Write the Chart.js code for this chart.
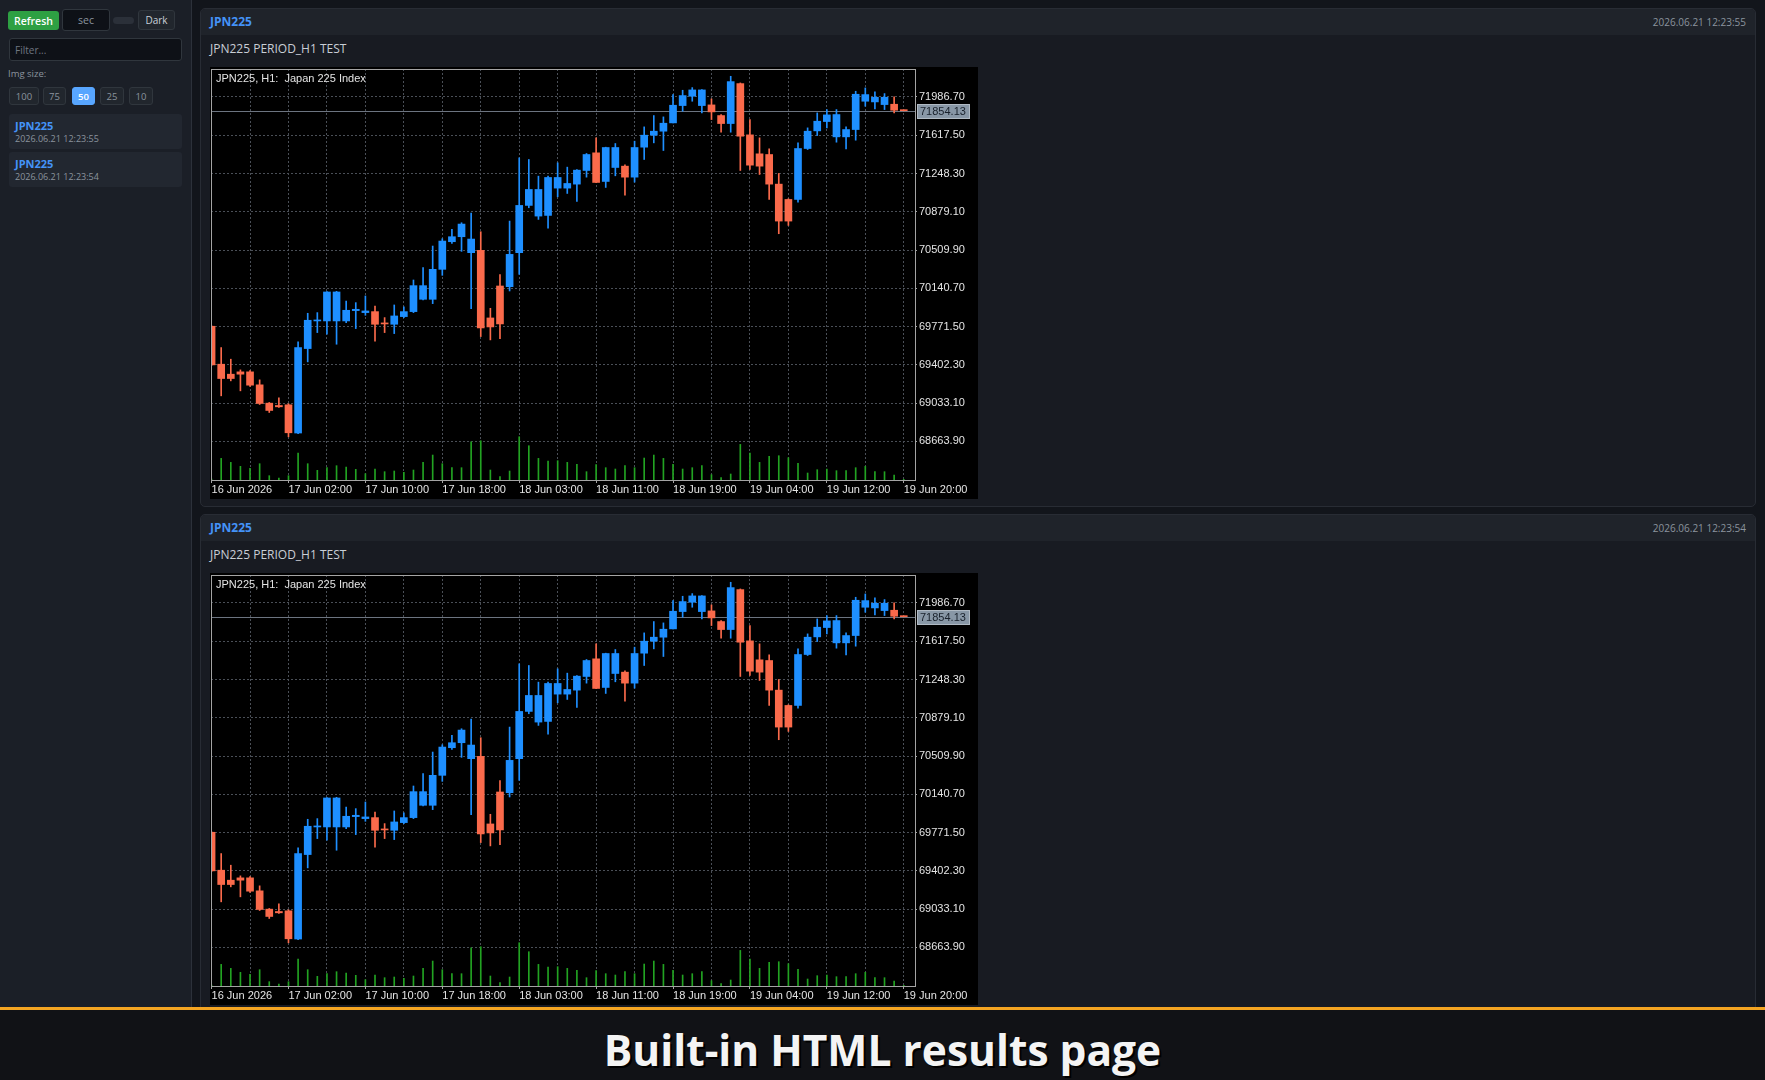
<!DOCTYPE html>
<html>
<head>
<meta charset="utf-8">
<script src="https://cdn.jsdelivr.net/npm/chart.js@4.4.1/dist/chart.umd.min.js"></script>
<style>
html, body { margin: 0; padding: 0; width: 1765px; height: 1080px; overflow: hidden; background: #12151b; font-family: "Open Sans", "Noto Sans", sans-serif; }
#side { position: absolute; left: 0; top: 0; width: 191px; height: 1080px; background: #1b1f27; border-right: 1px solid #2c313a; }
.ctl { position: absolute; box-sizing: border-box; border-radius: 3px; display: flex; align-items: center; justify-content: center; font-size: 10px; }
#refresh { left: 8px; top: 11px; width: 51px; height: 19px; background: #2ea043; color: #fff; font-weight: 600; font-size: 10.5px; }
#sec { left: 62px; top: 9px; width: 48px; height: 22px; background: #0e1117; border: 1px solid #30363d; color: #8b949e; font-size: 10.5px; }
#toggle { left: 113px; top: 17px; width: 21px; height: 7px; background: #2b3039; border-radius: 4px; }
#dark { left: 138px; top: 10px; width: 37px; height: 20px; background: #21262d; border: 1px solid #30363d; color: #c9d1d9; }
#filter { left: 9px; top: 38px; width: 173px; height: 23px; background: #0e1117; border: 1px solid #30363d; color: #6e7681; justify-content: flex-start; padding-left: 5px; }
#imglbl { position: absolute; left: 8px; top: 67px; font-size: 9.5px; color: #8b949e; }
.sz { top: 87px; height: 18px; background: #21262d; border: 1px solid #30363d; color: #8b949e; font-size: 9.5px; }
.sz.on { background: #58a6ff; border-color: #58a6ff; color: #fff; font-weight: 600; }
.item { position: absolute; left: 9px; width: 173px; height: 35px; background: #222730; border-radius: 3px; }
.item .n { position: absolute; left: 6px; top: 4px; font-size: 11px; font-weight: 700; color: #4493f8; }
.item .d { position: absolute; left: 6px; top: 18px; font-size: 9px; color: #8b949e; }
.panel { position: absolute; left: 200px; width: 1556px; height: 499px; box-sizing: border-box; background: #181b22; border: 1px solid #282c34; border-radius: 5px; overflow: hidden; }
.panel .hd { position: absolute; left: 0; top: 0; right: 0; height: 26px; background: #1f232a; }
.panel .sym { position: absolute; left: 9px; top: 4px; font-size: 12px; font-weight: 700; color: #4493f8; }
.panel .dt { position: absolute; right: 9px; top: 6px; font-size: 10px; color: #8b949e; }
.panel .sub { position: absolute; left: 9px; top: 31px; font-size: 12px; color: #c9ced6; }
.panel canvas { position: absolute; left: 9px; top: 58px; background: #000; }
#banner { position: absolute; left: 0; top: 1007px; width: 1765px; height: 73px; box-sizing: border-box; background: #111216; border-top: 3px solid #f4a522; text-align: center; color: #f4f4f4; font-family: "Open Sans", sans-serif; font-weight: 700; font-size: 42.5px; line-height: 80px; text-shadow: 2px 2px 0 #000; z-index: 5; overflow: hidden; }
</style>
</head>
<body>
<div id="side">
  <div class="ctl" id="refresh">Refresh</div>
  <div class="ctl" id="sec">sec</div>
  <div class="ctl" id="toggle"></div>
  <div class="ctl" id="dark">Dark</div>
  <div class="ctl" id="filter">Filter...</div>
  <div id="imglbl">Img size:</div>
  <div class="ctl sz" style="left:9px;width:30px">100</div>
  <div class="ctl sz" style="left:43px;width:23px">75</div>
  <div class="ctl sz on" style="left:72px;width:23px">50</div>
  <div class="ctl sz" style="left:100px;width:24px">25</div>
  <div class="ctl sz" style="left:129px;width:24px">10</div>
  <div class="item" style="top:114px"><div class="n">JPN225</div><div class="d">2026.06.21 12:23:55</div></div>
  <div class="item" style="top:152px"><div class="n">JPN225</div><div class="d">2026.06.21 12:23:54</div></div>
</div>

<div class="panel" style="top:8px">
  <div class="hd"><div class="sym">JPN225</div><div class="dt">2026.06.21 12:23:55</div></div>
  <div class="sub">JPN225 PERIOD_H1 TEST</div>
  <canvas id="chart1" width="768" height="432"></canvas>
</div>
<div class="panel" style="top:514px">
  <div class="hd"><div class="sym">JPN225</div><div class="dt">2026.06.21 12:23:54</div></div>
  <div class="sub">JPN225 PERIOD_H1 TEST</div>
  <canvas id="chart2" width="768" height="432"></canvas>
</div>

<div id="banner">Built-in HTML results page</div>

<script>
// JPN225 H1 bars
var opens = [69774.8, 69408.8, 69312.5, 69335.0, 69335.0, 69209.8, 69033.2, 69010.7, 69017.1, 68745.0,
  69559.7, 69826.1, 69826.1, 69826.1, 69826.1, 69925.7, 69906.4, 69916.0, 69806.9, 69794.0,
  69867.9, 69916.0, 70034.8, 70034.8, 70323.8, 70590.2, 70638.4, 70484.3, 70506.8, 69855.0,
  70163.2, 70156.8, 70484.3, 70940.2, 70837.4, 70843.8, 71107.1, 71107.1, 71145.6, 71277.2,
  71447.4, 71171.3, 71306.1, 71319.0, 71213.0, 71502.0, 71617.6, 71656.1, 71736.3, 71903.3,
  71993.2, 71903.3, 71909.7, 71807.0, 71729.9, 72115.2, 71620.8, 71437.8, 71431.3, 71145.6,
  70997.9, 70997.9, 71489.1, 71659.3, 71749.2, 71601.5, 71601.5, 71672.1, 71945.0, 71938.6,
  71912.9, 71916.1, 71858.3];
var highs = [69780.0, 69569.3, 69457.0, 69354.2, 69347.8, 69257.9, 69039.6, 69084.5, 69026.8, 69623.9,
  69900.0, 69906.4, 70108.7, 70111.9, 70018.8, 70002.7, 70066.9, 69970.6, 69858.3, 69980.2,
  69961.0, 70221.0, 70339.8, 70548.5, 70619.1, 70709.0, 70773.2, 70866.3, 70686.5, 69948.1,
  70272.4, 70789.3, 71399.2, 71383.2, 71222.7, 71222.7, 71351.1, 71309.4, 71286.9, 71441.0,
  71591.9, 71502.0, 71537.3, 71331.8, 71559.8, 71697.8, 71807.0, 71794.1, 72009.2, 72051.0,
  72076.6, 72057.4, 71967.5, 71816.6, 72185.8, 72121.6, 71768.4, 71591.9, 71485.9, 71248.4,
  71004.4, 71543.7, 71688.2, 71832.6, 71864.8, 71864.8, 71697.8, 72041.3, 72073.4, 72034.9,
  72018.9, 71986.7, 71860.5];
var lows = [69398.0, 69103.8, 69248.3, 69152.0, 69193.7, 69020.3, 68943.3, 68991.4, 68708.9, 68740.0,
  69431.3, 69713.8, 69697.7, 69601.4, 69810.1, 69752.3, 69880.7, 69630.3, 69713.8, 69704.2,
  69858.3, 69906.4, 70028.4, 69993.1, 70266.0, 70574.2, 70497.1, 69944.9, 69675.3, 69643.2,
  69656.0, 70115.1, 70275.6, 70917.7, 70805.3, 70721.9, 71023.6, 71055.7, 70978.7, 71213.0,
  71158.5, 71113.5, 71225.9, 71039.7, 71164.9, 71383.2, 71543.7, 71469.9, 71736.3, 71848.7,
  71945.0, 71832.6, 71768.4, 71646.4, 71646.4, 71277.2, 71286.9, 71238.7, 70997.9, 70667.3,
  70747.5, 70972.3, 71479.5, 71614.3, 71688.2, 71550.1, 71485.9, 71569.4, 71896.9, 71871.2,
  71864.8, 71832.6, 71852.0];
var closes = [69402.4, 69270.7, 69270.7, 69312.5, 69206.5, 69030.0, 68962.6, 68997.9, 68747.5, 69569.3,
  69832.6, 69835.8, 70105.5, 70105.5, 69928.9, 69938.5, 69922.5, 69794.0, 69797.3, 69874.3,
  69916.0, 70166.5, 70166.5, 70323.8, 70596.6, 70638.4, 70760.4, 70615.9, 69758.7, 69768.4,
  69797.3, 70468.2, 70940.2, 71094.3, 71094.3, 71209.8, 71209.8, 71152.0, 71280.5, 71431.3,
  71161.7, 71498.8, 71498.8, 71213.0, 71498.8, 71617.6, 71656.1, 71733.1, 71906.5, 71999.6,
  72054.2, 72054.2, 71842.3, 71729.9, 72134.4, 71607.9, 71328.6, 71319.0, 71145.6, 70789.3,
  70789.3, 71489.1, 71656.1, 71752.4, 71813.4, 71816.6, 71672.1, 72012.4, 72009.2, 71983.5,
  71983.5, 71858.3, 71854.13];
var volumes = [30, 650, 530, 410, 350, 490, 130, 60, 130, 810,
  490, 290, 370, 430, 390, 320, 190, 330, 250, 270,
  230, 300, 530, 750, 490, 370, 370, 1150, 1180, 300,
  100, 270, 1300, 1030, 650, 570, 580, 530, 470, 250,
  460, 370, 330, 430, 370, 660, 750, 650, 470, 330,
  370, 430, 160, 70, 180, 1070, 810, 530, 710, 730,
  670, 500, 210, 310, 330, 280, 280, 370, 410, 250,
  250, 150, 20];
var timeLabels = ['16 Jun 2026', '17 Jun 02:00', '17 Jun 10:00', '17 Jun 18:00', '18 Jun 03:00',
  '18 Jun 11:00', '18 Jun 19:00', '19 Jun 04:00', '19 Jun 12:00', '19 Jun 20:00'];
var priceLevels = [68663.90, 69033.10, 69402.30, 69771.50, 70140.70, 70509.90, 70879.10, 71248.30, 71617.50, 71986.70];
var bidPrice = 71854.13;
var chartTitle = 'JPN225, H1:  Japan 225 Index';

var BULL = '#1e8fff';
var BEAR = '#fa6a4b';
var GRID = '#4a4f57';
var FG = '#e4e4e4';
var chartFont = '"Liberation Sans", Arial, sans-serif';

var barColors = opens.map(function (o, i) { return closes[i] >= o ? BULL : BEAR; });

const mtPlugin = {
  id: 'mtLook',
  beforeDatasetsDraw(chart) {
    const a = chart.chartArea;
    const py = chart.scales.y.getPixelForValue(bidPrice);
    const ctx = chart.ctx;
    ctx.save();
    ctx.strokeStyle = '#6c7480';
    ctx.lineWidth = 1;
    ctx.beginPath();
    ctx.moveTo(a.left, Math.round(py) + 0.5);
    ctx.lineTo(a.right, Math.round(py) + 0.5);
    ctx.stroke();
    ctx.restore();
  },
  afterDraw(chart) {
    const a = chart.chartArea;
    const ctx = chart.ctx;
    ctx.save();
    ctx.strokeStyle = '#a4a4a4';
    ctx.lineWidth = 1;
    ctx.strokeRect(Math.round(a.left) + 0.5, Math.round(a.top) + 0.5, Math.round(a.right - a.left), Math.round(a.bottom - a.top));

    ctx.fillStyle = FG;
    ctx.font = '11px ' + chartFont;
    ctx.textBaseline = 'middle';
    ctx.fillText(chartTitle, a.left + 5, a.top + 9.5);

    // bid price box on the price scale
    const py = Math.round(chart.scales.y.getPixelForValue(bidPrice));
    ctx.fillStyle = '#8897a6';
    ctx.fillRect(a.right + 2, py - 7, 53, 15);
    ctx.strokeStyle = '#b0bac4';
    ctx.strokeRect(a.right + 2.5, py - 6.5, 52, 14);
    ctx.fillStyle = '#18202b';
    ctx.fillText(bidPrice.toFixed(2), a.right + 5, py + 0.5);
    ctx.restore();
  }
};

function makeChart(id) {
  var ctx = document.getElementById(id).getContext('2d');
  return new Chart(ctx, {
    type: 'bar',
    data: {
      datasets: [{
        label: 'Bodies',
        data: opens.map(function (o, i) { return { x: i, y: [o, closes[i]] }; }),
        backgroundColor: barColors,
        barThickness: 7,
        minBarLength: 1,
        grouped: false,
        order: 1
      }, {
        label: 'Wicks',
        data: lows.map(function (l, i) { return { x: i, y: [l, highs[i]] }; }),
        backgroundColor: barColors,
        barThickness: 1,
        grouped: false,
        order: 2
      }, {
        label: 'Volume',
        data: volumes.map(function (v, i) { return { x: i, y: v }; }),
        backgroundColor: '#22a322',
        barThickness: 1,
        grouped: false,
        yAxisID: 'yv',
        order: 3
      }]
    },
    options: {
      responsive: false,
      animation: false,
      layout: { padding: { left: 1, top: 2, right: 0, bottom: 0 } },
      plugins: { legend: { display: false }, tooltip: { enabled: false } },
      scales: {
        x: {
          type: 'linear',
          min: -0.06,
          max: 73.17,
          offset: false,
          bounds: 'data',
          afterBuildTicks: function (s) {
            var t = [];
            for (var v = 0; v <= 72; v += 4) t.push({ value: v });
            s.ticks = t;
          },
          afterFit: function (s) { s.height = 19; },
          grid: {
            offset: false,
            color: GRID,
            tickLength: 3,
            tickColor: function (c) { return c.tick && c.tick.value % 8 === 0 ? '#a4a4a4' : 'rgba(0,0,0,0)'; }
          },
          border: { display: false, dash: [2, 2] },
          ticks: {
            autoSkip: false,
            maxRotation: 0,
            minRotation: 0,
            align: 'start',
            padding: 0,
            color: FG,
            font: { family: chartFont, size: 11 },
            callback: function (v) { return v % 8 === 0 ? timeLabels[v / 8] : ''; }
          }
        },
        y: {
          position: 'right',
          min: 68292,
          max: 72256,
          afterBuildTicks: function (s) { s.ticks = priceLevels.map(function (v) { return { value: v }; }); },
          afterFit: function (s) { s.width = 63; s.paddingTop = 0; s.paddingBottom = 0; },
          grid: { color: GRID, tickLength: 2, tickColor: '#a4a4a4' },
          border: { display: false, dash: [2, 2] },
          ticks: {
            padding: 2,
            color: FG,
            font: { family: chartFont, size: 11 },
            callback: function (v) { return v.toFixed(2); }
          }
        },
        yv: {
          display: false,
          min: 0,
          max: 12350
        }
      }
    },
    plugins: [mtPlugin]
  });
}

makeChart('chart1');
makeChart('chart2');
</script>
</body>
</html>
